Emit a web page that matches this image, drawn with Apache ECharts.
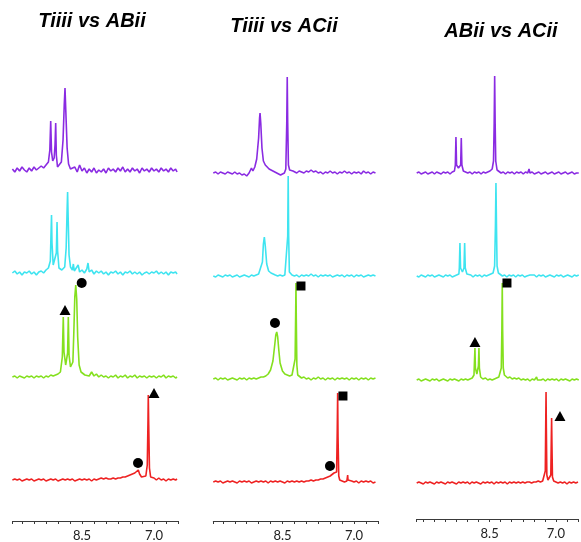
<!DOCTYPE html>
<html>
<head>
<meta charset="utf-8">
<script src="https://cdn.jsdelivr.net/npm/echarts@6.0.0/dist/echarts.min.js"></script>
<style>
html,body{margin:0;padding:0;background:#fff;}
#chart{width:581px;height:542px;}
</style>
</head>
<body>
<div id="chart"></div>
<script>
// ---- titles & ticks ----
const panelTitles = ['Tiiii vs ABii', 'Tiiii vs ACii', 'ABii vs ACii'];
const tickValues = [8.5, 7.0];
const tickLabels = ['8.5', '7.0'];
const traceColors = ['#8a2be2', '#3ee4f0', '#84e01e', '#ee2222'];

// ---- column 1: Tiiii vs ABii  [ppm, intensity] ----
const purple1 = [[9.95,1],[9.9,-2],[9.85,2],[9.8,-1],[9.75,3],[9.7,0],[9.65,-2],[9.6,2],[9.55,-1],[9.5,3],[9.45,0],[9.4,2],[9.35,4],[9.3,2],[9.25,5],[9.2,8],[9.17,20],[9.152,49],[9.135,18],[9.11,9],[9.08,12],[9.062,25],[9.048,47],[9.035,15],[9.01,3],[8.97,1],[8.93,8],[8.895,30],[8.87,65],[8.854,82],[8.838,60],[8.81,22],[8.78,6],[8.74,1],[8.7,-1],[8.65,3],[8.6,-2],[8.55,5],[8.5,-1],[8.45,2],[8.4,-3],[8.35,1],[8.3,-2],[8.25,2],[8.2,-3],[8.15,0],[8.1,-2],[8.05,1],[8.0,-3],[7.95,2],[7.9,-1],[7.85,1],[7.8,-2],[7.75,2],[7.7,-1],[7.65,3],[7.6,-2],[7.55,1],[7.5,-2],[7.45,2],[7.4,-1],[7.35,1],[7.3,-3],[7.25,2],[7.2,-1],[7.15,1],[7.1,-2],[7.05,2],[7.0,-1],[6.95,1],[6.9,-2],[6.85,2],[6.8,-1],[6.75,1],[6.7,-2],[6.65,2],[6.6,-1],[6.55,1],[6.52,-2]];
const cyan1 = [[9.95,0],[9.9,2],[9.85,-1],[9.8,1],[9.75,-2],[9.7,1],[9.65,0],[9.6,2],[9.55,-1],[9.5,1],[9.45,-2],[9.4,1],[9.35,2],[9.3,0],[9.25,3],[9.2,5],[9.16,12],[9.145,40],[9.135,58],[9.125,30],[9.1,8],[9.06,6],[9.035,20],[9.02,51],[9.008,22],[8.98,5],[8.92,3],[8.86,6],[8.83,25],[8.812,60],[8.8,81],[8.788,55],[8.77,18],[8.74,6],[8.7,3],[8.68,9],[8.66,2],[8.62,4],[8.58,8],[8.55,1],[8.5,3],[8.45,0],[8.4,4],[8.375,10],[8.35,1],[8.3,3],[8.25,-1],[8.2,2],[8.15,0],[8.1,2],[8.05,-1],[8.0,1],[7.95,-2],[7.9,1],[7.85,0],[7.8,2],[7.75,-1],[7.7,1],[7.65,-2],[7.6,1],[7.55,0],[7.5,2],[7.45,-1],[7.4,1],[7.35,-1],[7.3,1],[7.25,-2],[7.2,0],[7.15,1],[7.1,-1],[7.05,1],[7.0,0],[6.95,2],[6.9,-1],[6.85,1],[6.8,-1],[6.75,1],[6.7,-2],[6.65,1],[6.6,0],[6.55,1],[6.52,-1]];
const green1 = [[9.95,0],[9.9,1],[9.85,-1],[9.8,1],[9.75,0],[9.7,-1],[9.65,1],[9.6,0],[9.55,1],[9.5,-1],[9.45,1],[9.4,0],[9.35,1],[9.3,-1],[9.25,1],[9.2,0],[9.15,2],[9.1,1],[9.05,2],[9.0,3],[8.95,5],[8.91,20],[8.89,60],[8.875,25],[8.84,12],[8.8,24],[8.785,60],[8.77,22],[8.74,10],[8.71,8],[8.69,15],[8.67,45],[8.65,80],[8.63,92],[8.61,78],[8.59,40],[8.56,12],[8.52,5],[8.48,3],[8.44,2],[8.4,4],[8.35,1],[8.3,5],[8.25,1],[8.2,3],[8.15,0],[8.1,2],[8.05,0],[8.0,1],[7.95,-1],[7.9,1],[7.85,0],[7.8,2],[7.75,-1],[7.7,1],[7.65,0],[7.6,2],[7.55,-1],[7.5,1],[7.45,0],[7.4,2],[7.35,-1],[7.3,1],[7.25,0],[7.2,1],[7.15,-1],[7.1,1],[7.05,0],[7.0,1],[6.95,-1],[6.9,1],[6.85,0],[6.8,2],[6.75,-1],[6.7,1],[6.65,0],[6.6,1],[6.55,-1],[6.52,0]];
const red1 = [[9.95,0],[9.9,1],[9.85,0],[9.8,1],[9.75,-1],[9.7,0],[9.65,1],[9.6,0],[9.55,1],[9.5,-1],[9.45,0],[9.4,1],[9.35,0],[9.3,1],[9.25,-1],[9.2,0],[9.15,1],[9.1,0],[9.05,1],[9.0,-1],[8.95,0],[8.9,1],[8.85,0],[8.8,1],[8.75,0],[8.7,1],[8.65,-1],[8.6,0],[8.55,1],[8.5,0],[8.45,1],[8.4,0],[8.35,1],[8.3,-1],[8.25,1],[8.2,0],[8.15,1],[8.1,2],[8.05,1],[8.0,2],[7.95,1],[7.9,1],[7.85,2],[7.8,1],[7.75,2],[7.7,2],[7.65,3],[7.6,3],[7.55,4],[7.5,5],[7.45,6],[7.4,7],[7.36,8],[7.327,10],[7.3,6],[7.26,3],[7.22,2],[7.17,4],[7.14,15],[7.125,60],[7.119,85],[7.11,55],[7.095,12],[7.07,3],[7.03,1],[7.0,2],[6.95,0],[6.9,2],[6.85,0],[6.8,1],[6.75,-1],[6.7,1],[6.65,0],[6.6,1],[6.55,0],[6.52,1]];

// ---- column 2: Tiiii vs ACii ----
const purple2 = [[9.95,0],[9.9,1],[9.85,-1],[9.8,1],[9.75,0],[9.7,-1],[9.65,1],[9.6,0],[9.55,-1],[9.5,1],[9.45,-1],[9.4,0],[9.35,-2],[9.3,-1],[9.25,-3],[9.2,0],[9.15,5],[9.12,2],[9.08,6],[9.04,14],[9.0,35],[8.98,55],[8.97,60],[8.955,50],[8.93,25],[8.9,12],[8.86,8],[8.82,6],[8.78,4],[8.74,3],[8.7,2],[8.66,1],[8.62,0],[8.58,-1],[8.54,-2],[8.5,-1],[8.46,0],[8.43,4],[8.41,50],[8.40,96],[8.39,50],[8.375,8],[8.35,3],[8.32,4],[8.28,2],[8.25,3],[8.2,0],[8.15,2],[8.1,1],[8.05,0],[8.0,2],[7.95,1],[7.9,3],[7.85,1],[7.8,2],[7.75,0],[7.7,1],[7.65,-1],[7.6,1],[7.55,0],[7.5,2],[7.45,0],[7.4,1],[7.35,-1],[7.3,1],[7.25,0],[7.2,2],[7.15,0],[7.1,1],[7.05,-1],[7.0,1],[6.95,0],[6.9,1],[6.85,-1],[6.8,2],[6.75,0],[6.7,1],[6.65,-1],[6.6,1],[6.55,0]];
const cyan2 = [[9.95,0],[9.9,-1],[9.85,1],[9.8,0],[9.75,-1],[9.7,1],[9.65,0],[9.6,1],[9.55,-1],[9.5,0],[9.45,1],[9.4,-1],[9.35,0],[9.3,1],[9.25,0],[9.2,-1],[9.15,1],[9.1,0],[9.05,1],[9.0,2],[8.96,4],[8.92,14],[8.9,32],[8.88,39],[8.86,30],[8.83,12],[8.79,5],[8.74,3],[8.7,2],[8.65,1],[8.6,0],[8.55,1],[8.5,0],[8.45,1],[8.41,2],[8.39,40],[8.38,100],[8.37,40],[8.355,4],[8.33,2],[8.3,1],[8.25,0],[8.2,1],[8.15,-1],[8.1,1],[8.05,0],[8.0,1],[7.95,0],[7.9,2],[7.85,0],[7.8,1],[7.75,-1],[7.7,1],[7.65,0],[7.6,1],[7.55,0],[7.5,1],[7.45,-1],[7.4,0],[7.35,1],[7.3,0],[7.25,1],[7.2,-1],[7.15,1],[7.1,0],[7.05,1],[7.0,-1],[6.95,1],[6.9,0],[6.85,1],[6.8,-1],[6.75,0],[6.7,1],[6.65,0],[6.6,1],[6.55,0]];
const green2 = [[9.95,0],[9.9,1],[9.85,-1],[9.8,1],[9.75,0],[9.7,1],[9.65,-1],[9.6,0],[9.55,1],[9.5,0],[9.45,-1],[9.4,1],[9.35,0],[9.3,1],[9.25,-1],[9.2,1],[9.15,0],[9.1,1],[9.05,0],[9.0,1],[8.95,2],[8.9,2],[8.85,3],[8.8,5],[8.75,9],[8.7,18],[8.66,35],[8.64,44],[8.62,47],[8.6,42],[8.575,28],[8.55,16],[8.5,8],[8.45,5],[8.4,4],[8.35,3],[8.3,4],[8.26,6],[8.235,20],[8.222,70],[8.217,96],[8.21,60],[8.198,14],[8.18,4],[8.15,2],[8.1,1],[8.05,2],[8.0,0],[7.95,1],[7.9,-1],[7.85,1],[7.8,0],[7.75,2],[7.7,0],[7.65,1],[7.6,-1],[7.55,1],[7.5,0],[7.45,1],[7.4,-1],[7.35,1],[7.3,0],[7.25,1],[7.2,0],[7.15,1],[7.1,-1],[7.05,1],[7.0,0],[6.95,1],[6.9,-1],[6.85,1],[6.8,0],[6.75,1],[6.7,-1],[6.65,1],[6.6,0],[6.55,1]];
const red2 = [[9.95,0],[9.9,1],[9.85,0],[9.8,1],[9.75,-1],[9.7,0],[9.65,1],[9.6,0],[9.55,1],[9.5,0],[9.45,-1],[9.4,1],[9.35,0],[9.3,1],[9.25,0],[9.2,1],[9.15,-1],[9.1,0],[9.05,1],[9.0,0],[8.95,1],[8.9,0],[8.85,1],[8.8,-1],[8.75,1],[8.7,0],[8.65,1],[8.6,0],[8.55,1],[8.5,0],[8.45,-1],[8.4,1],[8.35,0],[8.3,1],[8.25,0],[8.2,1],[8.15,0],[8.1,1],[8.05,0],[8.0,1],[7.95,1],[7.9,2],[7.85,1],[7.8,2],[7.75,2],[7.7,3],[7.65,3],[7.6,4],[7.55,5],[7.5,6],[7.46,8],[7.42,9],[7.39,7],[7.365,10],[7.352,50],[7.343,89],[7.335,45],[7.32,6],[7.3,2],[7.25,1],[7.2,0],[7.15,1],[7.14,3],[7.133,7],[7.126,2],[7.1,0],[7.05,1],[7.0,0],[6.95,1],[6.9,-1],[6.85,1],[6.8,0],[6.75,1],[6.7,0],[6.65,1],[6.6,-1],[6.55,0]];

// ---- column 3: ABii vs ACii ----
const purple3 = [[10.15,0],[10.1,1],[10.05,-1],[10.0,0],[9.95,1],[9.9,-1],[9.85,0],[9.8,1],[9.75,-1],[9.7,1],[9.65,0],[9.6,-1],[9.55,1],[9.5,0],[9.45,1],[9.4,-1],[9.35,1],[9.3,2],[9.28,8],[9.266,36],[9.252,8],[9.21,5],[9.16,8],[9.146,35],[9.132,8],[9.1,2],[9.05,1],[9.0,0],[8.95,1],[8.9,-1],[8.85,1],[8.8,0],[8.75,1],[8.7,-1],[8.65,1],[8.6,0],[8.55,1],[8.5,2],[8.45,4],[8.42,12],[8.405,50],[8.394,97],[8.383,50],[8.37,12],[8.34,3],[8.3,1],[8.25,0],[8.2,1],[8.15,-1],[8.1,1],[8.05,0],[8.0,1],[7.95,-1],[7.9,1],[7.85,0],[7.8,1],[7.75,-1],[7.7,1],[7.65,0],[7.62,4],[7.6,0],[7.55,1],[7.5,-1],[7.45,0],[7.4,1],[7.35,-1],[7.3,0],[7.25,1],[7.2,-1],[7.15,0],[7.1,1],[7.05,-1],[7.0,0],[6.95,1],[6.9,-1],[6.85,0],[6.8,1],[6.75,-1],[6.7,0],[6.65,1],[6.6,-1],[6.55,0],[6.5,0]];
const cyan3 = [[10.15,0],[10.1,-1],[10.05,1],[10.0,0],[9.95,-1],[9.9,1],[9.85,0],[9.8,1],[9.75,-1],[9.7,0],[9.65,1],[9.6,0],[9.55,-1],[9.5,1],[9.45,0],[9.4,1],[9.35,-1],[9.3,0],[9.25,1],[9.2,2],[9.19,8],[9.176,33],[9.162,8],[9.12,4],[9.085,8],[9.07,33],[9.056,8],[9.02,2],[8.98,0],[8.93,1],[8.88,-1],[8.83,1],[8.78,0],[8.73,1],[8.68,-1],[8.63,1],[8.58,0],[8.53,1],[8.48,2],[8.43,3],[8.395,10],[8.377,50],[8.365,93],[8.353,50],[8.34,10],[8.31,3],[8.27,1],[8.22,0],[8.17,1],[8.12,-1],[8.07,1],[8.02,0],[7.97,1],[7.92,-1],[7.87,1],[7.82,0],[7.77,1],[7.72,-1],[7.67,0],[7.6,1],[7.58,3],[7.56,0],[7.5,1],[7.45,-1],[7.4,1],[7.35,0],[7.3,1],[7.25,-1],[7.2,0],[7.15,1],[7.1,0],[7.05,-1],[7.0,1],[6.95,0],[6.9,1],[6.85,-1],[6.8,0],[6.75,1],[6.7,0],[6.65,-1],[6.6,1],[6.55,0],[6.5,1]];
const green3 = [[10.15,0],[10.1,1],[10.05,-1],[10.0,0],[9.95,1],[9.9,0],[9.85,-1],[9.8,1],[9.75,0],[9.7,1],[9.65,-1],[9.6,0],[9.55,1],[9.5,0],[9.45,-1],[9.4,1],[9.35,0],[9.3,1],[9.25,0],[9.2,-1],[9.15,1],[9.1,0],[9.05,1],[9.0,0],[8.95,1],[8.9,2],[8.86,5],[8.848,20],[8.838,32],[8.828,12],[8.795,6],[8.76,14],[8.748,32],[8.738,12],[8.71,3],[8.66,1],[8.6,2],[8.55,0],[8.5,1],[8.45,0],[8.4,1],[8.35,2],[8.3,3],[8.27,5],[8.245,12],[8.232,50],[8.223,97],[8.214,50],[8.2,12],[8.175,5],[8.15,3],[8.1,2],[8.05,3],[8.0,1],[7.95,2],[7.9,1],[7.85,2],[7.8,0],[7.75,1],[7.7,0],[7.65,1],[7.6,-1],[7.55,1],[7.5,0],[7.45,3],[7.43,0],[7.4,1],[7.35,0],[7.3,1],[7.25,-1],[7.2,1],[7.15,0],[7.1,1],[7.05,0],[7.0,1],[6.95,-1],[6.9,1],[6.85,0],[6.8,1],[6.75,0],[6.7,-1],[6.65,1],[6.6,0],[6.55,1],[6.5,0]];
const red3 = [[10.15,0],[10.1,1],[10.05,0],[10.0,-1],[9.95,1],[9.9,0],[9.85,1],[9.8,0],[9.75,-1],[9.7,1],[9.65,0],[9.6,1],[9.55,0],[9.5,-1],[9.45,1],[9.4,0],[9.35,1],[9.3,0],[9.25,-1],[9.2,1],[9.15,0],[9.1,1],[9.05,0],[9.0,1],[8.95,-1],[8.9,1],[8.85,0],[8.8,1],[8.75,0],[8.7,-1],[8.65,1],[8.6,0],[8.55,1],[8.5,0],[8.45,1],[8.4,-1],[8.35,1],[8.3,0],[8.25,1],[8.2,0],[8.15,1],[8.1,-1],[8.05,1],[8.0,0],[7.95,1],[7.9,0],[7.85,1],[7.8,0],[7.75,1],[7.7,0],[7.65,1],[7.6,1],[7.55,0],[7.5,1],[7.45,1],[7.4,2],[7.35,1],[7.3,2],[7.26,3],[7.24,12],[7.23,60],[7.223,91],[7.216,55],[7.205,8],[7.18,3],[7.15,2],[7.115,8],[7.104,45],[7.097,65],[7.09,40],[7.078,6],[7.05,2],[7.0,1],[6.95,0],[6.9,1],[6.85,0],[6.8,1],[6.75,-1],[6.7,1],[6.65,0],[6.6,1],[6.55,0],[6.5,1]];

// ---- peak markers [ppm, height] ----
const m1GreenTri = [[8.854,67]], m1GreenCirc = [[8.506,94]];
const m1RedCirc = [[7.333,17]], m1RedTri = [[7.0,87]];
const m2GreenCirc = [[8.657,56]], m2GreenSq = [[8.112,93]];
const m2RedCirc = [[7.504,16]], m2RedSq = [[7.232,86]];
const m3GreenTri = [[8.838,38]], m3GreenSq = [[8.117,97]];
const m3RedTri = [[6.908,67]];

const traces = [[purple1,cyan1,green1,red1],[purple2,cyan2,green2,red2],[purple3,cyan3,green3,red3]];
const markers = [
  [{row:2,sym:'triangle',d:m1GreenTri},{row:2,sym:'circle',d:m1GreenCirc},{row:3,sym:'circle',d:m1RedCirc},{row:3,sym:'triangle',d:m1RedTri}],
  [{row:2,sym:'circle',d:m2GreenCirc},{row:2,sym:'rect',d:m2GreenSq},{row:3,sym:'circle',d:m2RedCirc},{row:3,sym:'rect',d:m2RedSq}],
  [{row:2,sym:'triangle',d:m3GreenTri},{row:2,sym:'rect',d:m3GreenSq},{row:3,sym:'triangle',d:m3RedTri}]
];

// layout (pixels)
const cols = [
  {left:12.4, pxPerPpm:48, max:9.95, base:[170,273,377,480], axisY:521, tx:92, ty:21},
  {left:213.3, pxPerPpm:47.7, max:9.95, base:[173,276,379,482], axisY:521, tx:284, ty:26},
  {left:416.7, pxPerPpm:44.4, max:10.15, base:[173,276,380,483], axisY:519, tx:501, ty:31}
];
const MIN = 6.5, YMIN = -6, YMAX = 104;

const grid = [], xAxis = [], yAxis = [], series = [], graphic = [];
cols.forEach((c, ci) => {
  const width = (c.max - MIN) * c.pxPerPpm;
  for (let r = 0; r < 4; r++) {
    const idx = ci * 4 + r;
    const b = c.base[r];
    grid.push({left: c.left, width: width, top: b - YMAX, height: YMAX - YMIN});
    xAxis.push({
      type: 'value', gridIndex: idx, min: MIN, max: c.max, inverse: true, interval: 0.25,
      show: r === 3, offset: r === 3 ? c.axisY - (b - YMIN) : 0,
      splitLine: {show: false},
      axisLine: {onZero: false, lineStyle: {color: '#3a3a3a', width: 1}},
      axisTick: {show: true, length: 3, lineStyle: {color: '#3a3a3a'}},
      axisLabel: {
        margin: 8, color: '#222', fontSize: 13, fontFamily: 'Lato, "Open Sans", sans-serif',
        showMinLabel: true, showMaxLabel: true,
        formatter: v => { for (let k = 0; k < tickValues.length; k++) if (Math.abs(v - tickValues[k]) < 1e-6) return tickLabels[k]; return ''; }
      }
    });
    yAxis.push({type: 'value', gridIndex: idx, min: YMIN, max: YMAX, show: false, splitLine: {show: false}});
    series.push({
      type: 'line', xAxisIndex: idx, yAxisIndex: idx, data: traces[ci][r],
      symbol: 'none', showSymbol: false, smooth: false,
      lineStyle: {color: traceColors[r], width: 1.6}, silent: true, z: 2
    });
  }
  markers[ci].forEach(m => {
    const idx = ci * 4 + m.row;
    series.push({
      type: 'scatter', xAxisIndex: idx, yAxisIndex: idx, data: m.d, symbol: m.sym,
      symbolSize: m.sym === 'triangle' ? [11, 10] : (m.sym === 'rect' ? 9 : 10),
      itemStyle: {color: '#000', opacity: 1}, clip: false, z: 5, silent: true
    });
  });
  graphic.push({
    type: 'text', x: c.tx, y: c.ty,
    style: {text: panelTitles[ci], fill: '#000', align: 'center', verticalAlign: 'middle',
      font: 'italic bold 20px "Liberation Sans", Arial, sans-serif'}
  });
});

const chart = echarts.init(document.getElementById('chart'), null, {renderer: 'canvas'});
chart.setOption({
  animation: false,
  backgroundColor: '#fff',
  grid, xAxis, yAxis, series, graphic
});
</script>
</body>
</html>
